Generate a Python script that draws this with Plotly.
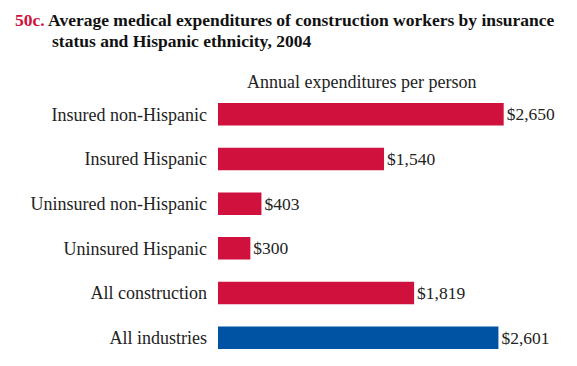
import plotly.graph_objects as go

categories = ["Insured non-Hispanic", "Insured Hispanic", "Uninsured non-Hispanic",
              "Uninsured Hispanic", "All construction", "All industries"]
values = [2650, 1540, 403, 300, 1819, 2601]
groups = ["construction", "construction", "construction", "construction", "construction", "all"]

RED = "#D0113D"
BLUE = "#0053A3"
color_map = {"construction": RED, "all": BLUE}
colors = [color_map[g] for g in groups]
labels = [f"${v:,}" for v in values]

FONT = "Liberation Serif, Times New Roman, serif"

# page body has an 8px default margin; the figure is sized to fit the 577x366 window
OFF = 8
W, H = 577 - OFF, 366 - OFF
L, R, T, B = 210, 14, 84, 6
plot_h = H - T - B
plot_w = W - L - R

def ypaper(px):
    return (H - B - (px - OFF)) / plot_h

def xpaper(px):
    return (px - OFF - L) / plot_w

fig = go.Figure(go.Bar(
    x=values, y=categories, orientation="h",
    marker=dict(color=colors, line=dict(width=0)),
    text=labels, textposition="outside", cliponaxis=False,
    textfont=dict(family=FONT, size=17.5, color="#222"),
    width=0.505,
))

fig.update_layout(
    width=W, height=H,
    margin=dict(l=L, r=R, t=T, b=B, autoexpand=False),
    paper_bgcolor="white", plot_bgcolor="white",
    showlegend=False,
    font=dict(family=FONT, size=18, color="#222"),
    xaxis=dict(range=[0, 3200], visible=False, fixedrange=True, automargin=False),
    yaxis=dict(range=[5.5, -0.5], showline=False, showgrid=False, zeroline=False,
               ticks="", ticklabelstandoff=10, automargin=False,
               tickfont=dict(family=FONT, size=18, color="#222")),
    annotations=[
        dict(text="<b><span style='color:#D0113D'>50c.</span> Average medical expenditures of construction workers by insurance</b>",
             xref="paper", yref="paper", x=xpaper(13), y=ypaper(19.5),
             xanchor="left", yanchor="middle", showarrow=False,
             font=dict(family=FONT, size=17.5, color="#111")),
        dict(text="<b>status and Hispanic ethnicity, 2004</b>",
             xref="paper", yref="paper", x=xpaper(50), y=ypaper(41.5),
             xanchor="left", yanchor="middle", showarrow=False,
             font=dict(family=FONT, size=17.5, color="#111")),
        dict(text="Annual expenditures per person",
             xref="paper", yref="paper", x=xpaper(361), y=ypaper(81.5),
             xanchor="center", yanchor="middle", showarrow=False,
             font=dict(family=FONT, size=18, color="#222")),
    ],
)

fig.write_html("out.html")
